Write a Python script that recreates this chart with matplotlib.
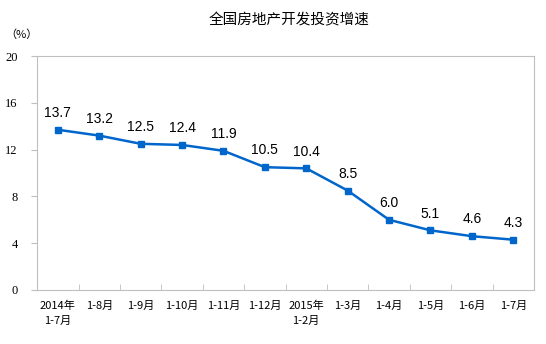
import numpy as np
import matplotlib.pyplot as plt

plt.rcParams['font.family'] = ['Noto Sans CJK SC', 'DejaVu Sans']

categories = ["2014年\n1-7月", "1-8月", "1-9月", "1-10月", "1-11月", "1-12月",
              "2015年\n1-2月", "1-3月", "1-4月", "1-5月", "1-6月", "1-7月"]
growth = [13.7, 13.2, 12.5, 12.4, 11.9, 10.5, 10.4, 8.5, 6.0, 5.1, 4.6, 4.3]
y_ticks = [0, 4, 8, 12, 16, 20]

fig = plt.figure(figsize=(5.46, 3.44), dpi=100)
ax = fig.add_axes([0.068, 0.157, 0.91, 0.68])

x = np.arange(len(categories))
ax.plot(x, growth, color="#0066CC", linewidth=1.8, marker="s", markersize=4.5)

for xi, v in zip(x, growth):
    ax.annotate(f"{v:.1f}", (xi, v), xytext=(0, 7), textcoords="offset points",
                ha="center", va="bottom", fontsize=10, family="Liberation Sans")

ax.set_xlim(-0.5, len(categories) - 0.5)
ax.set_ylim(0, 20)
ax.set_yticks(y_ticks)
ax.set_yticklabels([str(t) for t in y_ticks], family="Liberation Serif", fontsize=9)

# category labels at centres, tick marks at the boundaries
ax.set_xticks(x)
ax.set_xticklabels(categories, fontsize=8, linespacing=1.5, va="top")
ax.tick_params(axis="x", length=0, pad=8)
ax.set_xticks(np.arange(0.5, len(categories) - 1, 1), minor=True)
ax.tick_params(axis="x", which="minor", direction="in", length=4, color="#BFBFBF")
ax.tick_params(axis="y", direction="out", length=4, color="#BFBFBF", pad=10)

for s in ax.spines.values():
    s.set_color("#BFBFBF")

fig.text(0.53, 0.94, "全国房地产开发投资增速", ha="center", va="center", fontsize=10.5)
fig.text(0.04, 0.9, "（%）", ha="center", va="center", fontsize=8)

fig.savefig("out.png", dpi=100)
